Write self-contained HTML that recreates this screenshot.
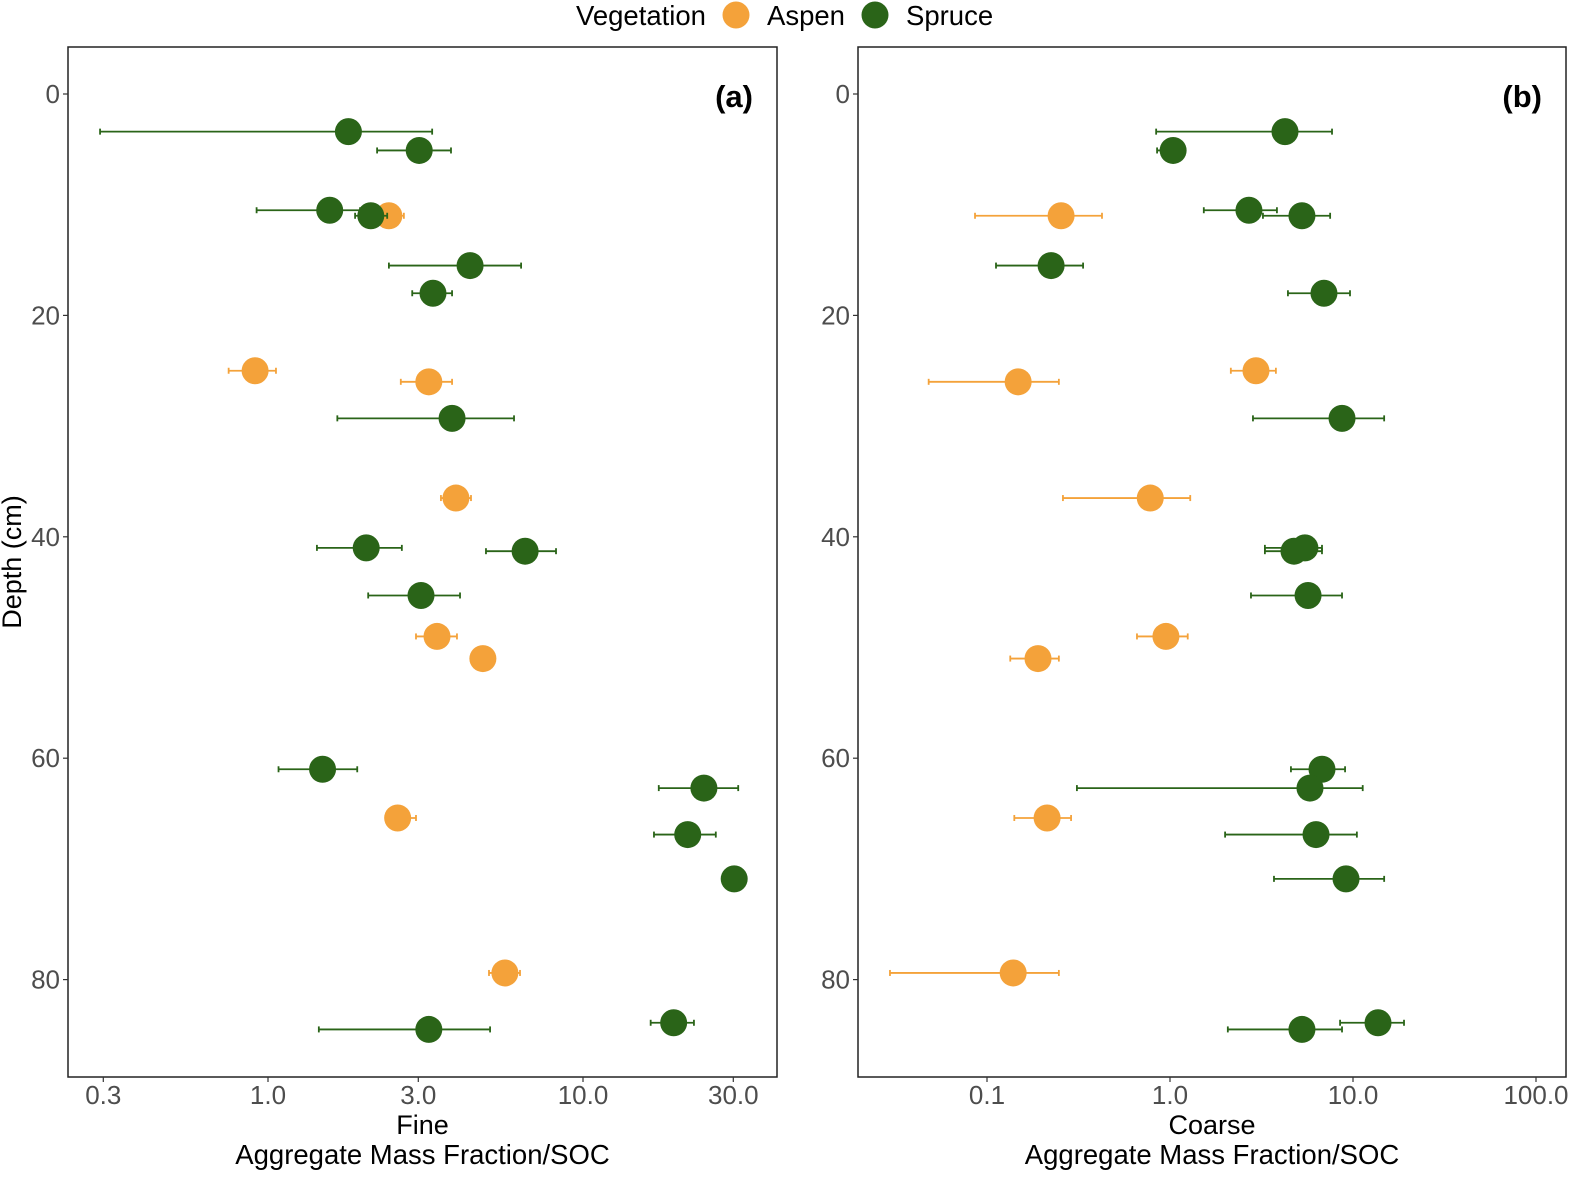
<!DOCTYPE html>
<html><head><meta charset="utf-8"><style>
body{margin:0;background:#fff}
svg text{font-family:"Liberation Sans",sans-serif}
</style></head><body>
<svg id="chart" width="1573" height="1173"></svg>
<script>
const depthsA=[3.4,5.1,10.5,11.0,11.0,15.5,18.0,25.0,26.0,29.3,36.5,41.0,41.3,45.3,49.0,51.0,61.0,62.7,65.4,66.9,70.9,79.4,83.9,84.5];
const vegA=['S','S','S','S','A','S','S','A','A','S','A','S','S','S','A','A','S','S','A','S','S','A','S','S'];
const valA=[1.80,3.02,1.57,2.12,2.42,4.38,3.34,0.91,3.24,3.84,3.95,2.05,6.55,3.06,3.44,4.81,1.49,24.2,2.58,21.5,30.2,5.65,19.4,3.24];
const lowA=[0.293,2.22,0.92,1.89,2.11,2.42,2.87,0.75,2.64,1.66,3.54,1.43,4.92,2.08,2.95,4.81,1.08,17.4,2.37,16.8,30.2,5.03,16.4,1.45];
const highA=[3.32,3.81,1.96,2.39,2.70,6.36,3.84,1.06,3.84,6.04,4.41,2.66,8.21,4.07,3.98,4.81,1.92,31.1,2.95,26.4,30.2,6.31,22.5,5.07];
const depthsB=[3.4,5.1,11.0,10.5,11.0,15.5,18.0,25.0,26.0,29.3,36.5,41.0,41.3,45.3,49.0,51.0,61.0,62.7,65.4,66.9,70.9,79.4,83.9,84.5];
const vegB=['S','S','A','S','S','S','S','A','A','S','A','S','S','S','A','A','S','S','A','S','S','A','S','S'];
const valB=[4.25,1.04,0.254,2.70,5.26,0.224,6.94,2.95,0.148,8.71,0.78,5.46,4.76,5.68,0.95,0.19,6.77,5.82,0.213,6.28,9.16,0.139,13.7,5.26];
const lowB=[0.84,0.85,0.086,1.53,3.22,0.112,4.41,2.15,0.048,2.84,0.26,3.30,3.30,2.77,0.66,0.134,4.58,0.31,0.141,2.0,3.70,0.0295,8.5,2.07];
const highB=[7.68,1.13,0.425,3.84,7.50,0.335,9.63,3.79,0.247,14.8,1.29,6.77,6.77,8.71,1.25,0.247,9.05,11.3,0.288,10.5,14.8,0.247,19.0,8.71];
const yTicks=[0,20,40,60,80];
const xTicksA=[0.3,1.0,3.0,10.0,30.0];
const xTicksB=[0.1,1.0,10.0,100.0];
const COL={A:'#F4A23A',S:'#2A6418'};
const svg=document.getElementById('chart');
const NS='http://www.w3.org/2000/svg';
function mk(t,a,p){const e=document.createElementNS(NS,t);for(const k in a)e.setAttribute(k,a[k]);(p||svg).appendChild(e);return e;}
const yS=d=>94+d*11.07;
function panel(id,x0,x1,ref,ppd,dep,veg,val,lo,hi,ticks,title,tag){
  const xS=v=>ref+Math.log10(v)*ppd;
  const g=mk('g',{});
  
  
  const fr=mk('rect',{x:x0,y:47,width:x1-x0,height:1030,fill:'none',stroke:'#222','stroke-width':1.5},g);
  
  
  yTicks.forEach(t=>{
    mk('line',{x1:x0-5,x2:x0,y1:yS(t),y2:yS(t),stroke:'#333','stroke-width':1.2},g);
    const tx=mk('text',{x:x0-8,y:yS(t)+9,'text-anchor':'end','font-size':26,fill:'#4d4d4d'},g);
    tx.textContent=t;
    
    
  });
  ticks.forEach(t=>{
    const x=xS(t);
    mk('line',{x1:x,x2:x,y1:1077,y2:1082,stroke:'#333','stroke-width':1.2},g);
    const tx=mk('text',{x:x,y:1104,'text-anchor':'middle','font-size':26,fill:'#4d4d4d'},g);
    tx.textContent=t.toFixed(1);
    
    
  });
  const cx=(x0+x1)/2;
  const t1=mk('text',{x:cx,y:1134,'text-anchor':'middle','font-size':27,fill:'#000'},g);
  t1.textContent=title;
  
  
  const t2=mk('text',{x:cx,y:1164,'text-anchor':'middle','font-size':27.5,fill:'#000'},g);
  t2.textContent='Aggregate Mass Fraction/SOC';
  
  
  const tg=mk('text',{x:x1-24,y:107,'text-anchor':'end','font-size':31,'font-weight':'bold',fill:'#000'},g);
  tg.textContent=tag;
  
  
  ['A','S'].forEach(v=>{
    dep.forEach((d,i)=>{
      if(veg[i]!==v)return;
      const y=yS(d),c=COL[v];
      if(lo[i]!==hi[i]){
        const eb=mk('g',{},g);
        
        
        mk('line',{x1:xS(lo[i]),x2:xS(hi[i]),y1:y,y2:y,stroke:c,'stroke-width':1.8},eb);
        mk('line',{x1:xS(lo[i]),x2:xS(lo[i]),y1:y-3,y2:y+3,stroke:c,'stroke-width':1.8},eb);
        mk('line',{x1:xS(hi[i]),x2:xS(hi[i]),y1:y-3,y2:y+3,stroke:c,'stroke-width':1.8},eb);
      }
      const p=mk('circle',{cx:xS(val[i]),cy:y,r:13.5,fill:c},g);
      
      
    });
  });
}
panel('a',68,777,268,315,depthsA,vegA,valA,lowA,highA,xTicksA,'Fine','(a)');
panel('b',858,1566,1170,183,depthsB,vegB,valB,lowB,highB,xTicksB,'Coarse','(b)');
const yl=mk('text',{x:21,y:562,'text-anchor':'middle','font-size':27,transform:'rotate(-90 21 562)',fill:'#000'});
yl.textContent='Depth (cm)';


const lg=mk('g',{});


const lt=mk('text',{x:576,y:25,'font-size':27.5,fill:'#000'},lg);
lt.textContent='Vegetation';
const e1=mk('circle',{cx:736,cy:15,r:13.5,fill:COL.A},lg);


const l1=mk('text',{x:767,y:25,'font-size':27.5,fill:'#000'},lg);l1.textContent='Aspen';
const e2=mk('circle',{cx:875,cy:15,r:13.5,fill:COL.S},lg);


const l2=mk('text',{x:906,y:25,'font-size':27.5,fill:'#000'},lg);l2.textContent='Spruce';
</script>
</body></html>
